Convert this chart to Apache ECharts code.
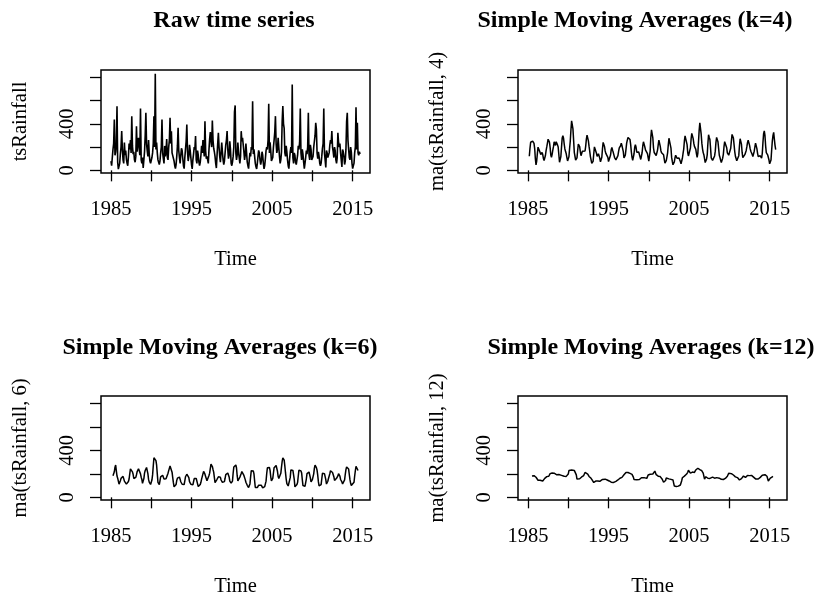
<!DOCTYPE html>
<html><head><meta charset="utf-8">
<script src="https://cdn.jsdelivr.net/npm/echarts@6/dist/echarts.min.js"></script>
<style>html,body{margin:0;padding:0;background:#fff}#c{width:830px;height:599px}</style>
</head><body><div id="c"></div>
<script>
// Monthly rainfall (tsRainfall), Jan..Dec
const startYear = 1985;
const rain1985 = [80, 40, 110, 180, 230, 437, 130, 160, 220, 552, 70, 10];
const rain1986 = [15, 60, 140, 200, 337, 180, 90, 60, 240, 130, 170, 95];
const rain1987 = [60, 40, 120, 230, 180, 260, 150, 466, 210, 140, 160, 90];
const rain1988 = [70, 120, 380, 160, 240, 280, 190, 130, 532, 90, 60, 110];
const rain1989 = [20, 90, 160, 300, 495, 230, 170, 120, 260, 140, 80, 60];
const rain1990 = [60, 110, 150, 230, 466, 200, 830, 180, 240, 150, 90, 100];
const rain1991 = [50, 80, 150, 200, 437, 150, 100, 60, 210, 120, 160, 270];
const rain1992 = [110, 90, 200, 260, 452, 230, 337, 150, 140, 160, 80, 40];
const rain1993 = [15, 50, 120, 210, 366, 170, 110, 60, 130, 190, 170, 100];
const rain1994 = [40, 15, 110, 180, 250, 395, 160, 80, 120, 220, 170, 110];
const rain1995 = [50, 12, 90, 140, 200, 180, 295, 90, 60, 170, 130, 70];
const rain1996 = [40, 70, 130, 210, 150, 260, 180, 120, 423, 170, 100, 120];
const rain1997 = [90, 60, 180, 270, 330, 250, 200, 429, 260, 190, 160, 120];
const rain1998 = [60, 20, 130, 230, 323, 200, 120, 70, 150, 240, 160, 90];
const rain1999 = [50, 80, 150, 220, 260, 337, 180, 100, 130, 250, 180, 60];
const rain2000 = [40, 70, 120, 200, 503, 558, 150, 90, 130, 240, 160, 110];
const rain2001 = [60, 120, 337, 250, 280, 220, 160, 90, 130, 230, 150, 70];
const rain2002 = [40, 15, 90, 150, 120, 200, 180, 595, 140, 180, 120, 60];
const rain2003 = [30, 12, 60, 120, 172, 150, 90, 50, 80, 160, 130, 60];
const rain2004 = [12, 40, 100, 170, 200, 180, 260, 572, 150, 240, 170, 80];
const rain2005 = [70, 110, 200, 260, 330, 466, 230, 150, 180, 280, 200, 120];
const rain2006 = [60, 90, 160, 420, 552, 400, 360, 150, 120, 210, 160, 90];
const rain2007 = [40, 15, 90, 160, 200, 150, 738, 110, 60, 150, 130, 70];
const rain2008 = [50, 40, 130, 210, 180, 240, 532, 150, 90, 180, 140, 70];
const rain2009 = [15, 60, 110, 170, 140, 200, 495, 130, 90, 220, 180, 90];
const rain2010 = [80, 120, 200, 250, 300, 409, 352, 150, 100, 160, 120, 60];
const rain2011 = [40, 60, 120, 190, 230, 532, 150, 90, 25, 170, 150, 110];
const rain2012 = [120, 150, 220, 260, 230, 337, 200, 160, 110, 200, 170, 90];
const rain2013 = [60, 110, 323, 240, 200, 230, 150, 90, 30, 180, 160, 120];
const rain2014 = [50, 80, 180, 420, 495, 260, 180, 110, 90, 200, 160, 60];
const rain2015 = [15, 40, 60, 150, 200, 543, 180, 409, 150, 130, 160, 140];

const maOrders = [4, 6, 12];
const panelTitles = ['Raw time series', 'Simple Moving Averages (k=4)', 'Simple Moving Averages (k=6)', 'Simple Moving Averages (k=12)'];
const yNames = ['tsRainfall', 'ma(tsRainfall, 4)', 'ma(tsRainfall, 6)', 'ma(tsRainfall, 12)'];
const xName = 'Time';
const xTicks = [1985, 1990, 1995, 2000, 2005, 2010, 2015];
const xTickLabels = [1985, 1995, 2005, 2015];
const yTicks = [0, 200, 400, 600, 800];
const yTickLabels = [0, 400];

const tsRainfall = [].concat(rain1985, rain1986, rain1987, rain1988, rain1989, rain1990, rain1991, rain1992,
  rain1993, rain1994, rain1995, rain1996, rain1997, rain1998, rain1999, rain2000, rain2001, rain2002, rain2003,
  rain2004, rain2005, rain2006, rain2007, rain2008, rain2009, rain2010, rain2011, rain2012, rain2013, rain2014, rain2015);
const timeOf = i => startYear + i / 12;

// centred moving average, as forecast::ma(x, order=k)
function ma(x, k) {
  const out = [];
  const half = Math.floor(k / 2);
  for (let t = 0; t < x.length; t++) {
    if (t - half < 0 || t + half >= x.length) continue;
    let s = 0;
    if (k % 2 === 1) { for (let j = -half; j <= half; j++) s += x[t + j]; s /= k; }
    else {
      for (let j = -half; j <= half; j++) s += (Math.abs(j) === half ? 0.5 : 1) * x[t + j];
      s /= k;
    }
    out.push([timeOf(t), s]);
  }
  return out;
}

const rawData = tsRainfall.map((v, i) => [timeOf(i), v]);
const seriesData = [rawData].concat(maOrders.map(k => ma(tsRainfall, k)));

const yMinD = Math.min(...tsRainfall), yMaxD = Math.max(...tsRainfall);
const yPad = 0.04 * (yMaxD - yMinD);
const xMinD = timeOf(0), xMaxD = timeOf(tsRainfall.length - 1);
const xPad = 0.04 * (xMaxD - xMinD);

const F = 'Liberation Serif';
const grids = [
  {left: 101, top: 70, width: 269, height: 103},
  {left: 518, top: 70, width: 269, height: 103},
  {left: 101, top: 396, width: 269, height: 104},
  {left: 518, top: 396, width: 269, height: 104}
];
const titlePos = [[234, 9], [635, 9], [220, 336], [651, 336]];

const option = {
  animation: false,
  backgroundColor: '#fff',
  title: panelTitles.map((t, i) => ({
    text: t, left: titlePos[i][0], top: titlePos[i][1], textAlign: 'center', padding: 0,
    textStyle: {fontFamily: F, fontWeight: 'bold', fontSize: 24, color: '#000'}
  })),
  grid: grids.map(g => Object.assign({show: true, borderColor: '#000', borderWidth: 1.5, backgroundColor: 'transparent'}, g)),
  xAxis: grids.map((g, i) => ({
    type: 'value', gridIndex: i, min: xMinD - xPad, max: xMaxD + xPad,
    name: xName, nameLocation: 'middle', nameGap: 76,
    nameTextStyle: {fontFamily: F, fontSize: 20.5, color: '#000'},
    axisLine: {show: false}, splitLine: {show: false},
    axisTick: {show: true, inside: false, length: 11, customValues: xTicks, lineStyle: {color: '#000', width: 1.3}},
    axisLabel: {show: true, customValues: xTickLabels, margin: 26, fontFamily: F, fontSize: 20.5, color: '#000', formatter: v => String(Math.round(v))}
  })),
  yAxis: grids.map((g, i) => ({
    type: 'value', gridIndex: i, min: yMinD - yPad, max: yMaxD + yPad,
    name: yNames[i], nameLocation: 'middle', nameRotate: 90, nameGap: 70,
    nameTextStyle: {fontFamily: F, fontSize: 20.5, color: '#000'},
    axisLine: {show: false}, splitLine: {show: false},
    axisTick: {show: true, inside: false, length: 11, customValues: yTicks, lineStyle: {color: '#000', width: 1.3}},
    axisLabel: {show: true, customValues: yTickLabels, rotate: 90, margin: 23, fontFamily: F, fontSize: 20.5, color: '#000', formatter: v => String(Math.round(v))}
  })),
  series: seriesData.map((d, i) => ({
    type: 'line', xAxisIndex: i, yAxisIndex: i, data: d, showSymbol: false, symbol: 'none',
    lineStyle: {color: '#000', width: i === 0 ? 1.6 : 1.5}, silent: true
  }))
};
const chart = echarts.init(document.getElementById('c'), null, {renderer: 'canvas'});
chart.setOption(option);
</script></body></html>
